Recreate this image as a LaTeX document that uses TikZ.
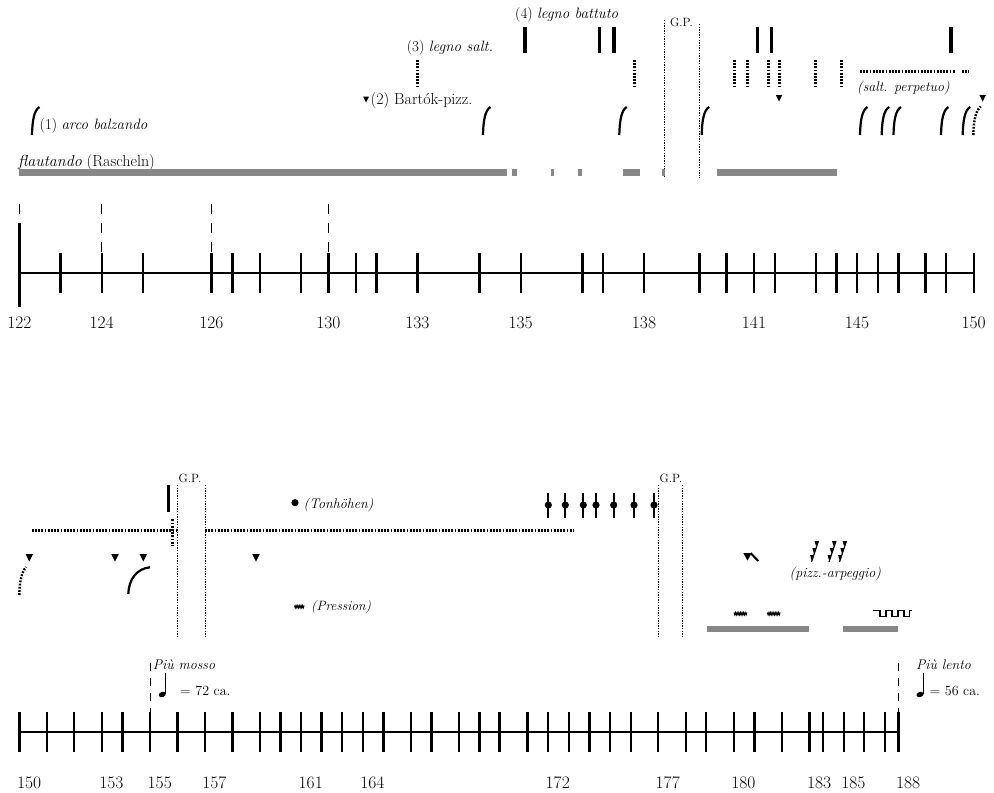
\documentclass[tikz,border=0pt]{standalone}
\usepackage{fontspec}
\definecolor{barg}{HTML}{878787}
\newcommand\bowarc[2]{\draw[bow] (#1,#2) .. controls (#1+0.3,#2-14) and (#1+2,#2-25) .. (#1+7.5,#2-28);}
\newcommand\tridn[3]{\fill (#1-#3/2,#2) -- (#1+#3/2,#2) -- (#1,#2+#3) -- cycle;}
\newcommand\arpsym[1]{%
  \draw[line width=1.2pt] (#1+8,541) -- (#1+1,562);
  \fill (#1+4,541) -- (#1+8.2,541) -- (#1+5.5,546) -- cycle;
  \fill (#1+1.8,548) -- (#1+5.9,548) -- (#1+3.3,553) -- cycle;
  \fill (#1-0.5,555) -- (#1+3.6,555) -- (#1+1,560) -- cycle;}
\newcommand\wig[3]{\draw[line width=1pt] (#1,#2) \foreach \i in {1,...,#3}{ -- ++(0.8,2.4) -- ++(0.8,-2.4)};}
\begin{document}
\begin{tikzpicture}[x=1pt,y=-1pt,
  axisline/.style={line width=2.4pt},
  tick/.style={line width=2.4pt},
  gbar/.style={line width=6.5pt,draw=barg},
  dotl/.style={line width=3pt,dash pattern=on 1.8pt off 1.4pt},
  gpl/.style={line width=0.9pt,dash pattern=on 1.3pt off 1.3pt},
  dashl/.style={line width=1pt,dash pattern=on 10pt off 9pt},
  bow/.style={line width=2.2pt},
  bat/.style={line width=3.5pt},
  lbl/.style={font=\fontsize{15}{18}\selectfont,inner sep=0pt},
  rlbl/.style={font=\fontsize{16}{19}\selectfont,inner sep=0pt},
  slbl/.style={font=\fontsize{14}{17}\selectfont,inner sep=0pt},
  gplbl/.style={font=\fontsize{12}{14}\selectfont,inner sep=0pt},
  num/.style={font=\fontsize{17.5}{20}\selectfont,inner sep=0pt}]
\useasboundingbox (0,0) rectangle (994,793);

% ================= TOP SYSTEM =================
% instrument labels
\node[lbl,anchor=base west] (battuto) at (515,18) {(4) \textit{legno battuto}};
\node[lbl,anchor=base west] (salt) at (406.7,51) {(3) \textit{legno salt.}};
\node[rlbl,anchor=base west] (bartok) at (370.5,104) {(2) Bartók-pizz.};
\tridn{366}{96.5}{6}
\node[lbl,anchor=base west] (arco) at (39.5,129.5) {(1) \textit{arco balzando}};
\node[rlbl,anchor=base west] (flaut) at (18,166) {\textit{flautando} (Rascheln)};
\node[slbl,anchor=base west] (perp) at (857,91) {\textit{(salt. perpetuo)}};
\node[gplbl,anchor=base] (gp1) at (681.5,26) {G.P.};

% G.P. dotted lines
\draw[gpl] (664.3,20) -- (664.3,178);
\draw[gpl] (699.3,24) -- (699.3,178);

% legno battuto bars
\foreach \x in {525,599.3,614,757.3,771.7,951} \draw[bat] (\x,26.7) -- (\x,52.7);
% legno saltando dotted strokes
\foreach \x in {417.3,634,734,747.3,768.3,779,815.7,841.7} \draw[dotl] (\x,60) -- (\x,86.7);
% salt. perpetuo
\draw[dotl] (860,71) -- (955,71);
\draw[dotl] (961.7,71) -- (968.3,71);
% Bartok triangles
\tridn{779}{95}{6.5}
\tridn{982.7}{95}{6.5}
% arco balzando bows
\foreach \x in {32,483,619.3,701.7,860,881.7,893.5,941,962.7} {\bowarc{\x}{135}}
\draw[dotl,line width=2.4pt] (973.3,135) .. controls (973.6,121) and (975.5,111) .. (980.7,106.5);

% flautando bars
\draw[gbar] (19.3,172.5) -- (506.7,172.5);
\foreach \a/\b in {511.7/516.7,551/554.3,578.3/581.7,623.3/640,662/665,716.7/836.7}
  \draw[gbar] (\a,172.5) -- (\b,172.5);

% dashed guide lines
\draw[dashl] (19.3,204) -- (19.3,214);
\foreach \x in {101.7,211.3,328.3} \draw[dashl] (\x,204) -- (\x,252);

% time axis
\draw[axisline] (19.3,272.7) -- (973.7,272.7);
\draw[tick] (19.3,223) -- (19.3,307);
\foreach \x in {60.3,101.7,142.7,211.3,232.3,259.7,301,328.3,355.7,376.3,417.3,479.3,520.7,582.3,603,644,699.3,726.3,754,774.7,815.7,836.3,857,877.7,898.3,925.3,946,973.7}
  \draw[tick] (\x,252.5) -- (\x,293);
\foreach \x/\n in {19.3/122,101.7/124,211.3/126,328.3/130,417.3/133,520.7/135,644/138,754/141,857/145,973.7/150}
  \node[num,anchor=base] (t\n) at (\x,328) {\n};

% ================= BOTTOM SYSTEM =================
\node[gplbl,anchor=base] (gp2) at (190,482) {G.P.};
\node[gplbl,anchor=base] (gp3) at (671,482) {G.P.};
\draw[gpl] (177.7,485) -- (177.7,636);
\draw[gpl] (205,485) -- (205,636);
\draw[gpl] (658.3,485) -- (658.3,637);
\draw[gpl] (682.7,485) -- (682.7,637);

\draw[bat] (168.3,485) -- (168.3,512.3);
\draw[dotl] (31.7,530.7) -- (176.7,530.7);
\draw[dotl] (205,530.7) -- (573.3,530.7);
\draw[dotl] (172.7,519.3) -- (172.7,545);

% Tonhoehen
\fill (295,502.7) circle[radius=3.6pt];
\node[slbl,anchor=base west] (tonh) at (303.5,508) {\textit{(Tonhöhen)}};
\foreach \x in {548.3,565.3,583.3,596,613.7,634,654} {
  \draw[line width=2pt] (\x,492.7) -- (\x,518.3);
  \fill (\x,505) circle[radius=3.6pt];}

% triangles and bows
\foreach \x in {29.3,115,143.3,256} {\tridn{\x}{554}{7.5}}
\draw[dotl,line width=2.4pt] (19.3,595) .. controls (19.6,582) and (21.5,572) .. (26,567);
\draw[bow] (128.3,594) .. controls (128.8,579) and (137,568.5) .. (150,567.3);

% Pression
\wig{294.5}{605.5}{6}
\node[font=\fontsize{13.5}{16}\selectfont,inner sep=0pt,anchor=base west] (press) at (311,610) {\textit{(Pression)}};

% right hand group
\fill (743.3,553) -- (751.7,553) -- (747.5,560.5) -- cycle;
\draw[line width=2pt] (750.5,553) -- (758.3,561);
\arpsym{810.5}
\arpsym{828}
\arpsym{838.5}
\node[slbl,anchor=base west] (arp) at (789.5,577) {\textit{(pizz.-arpeggio)}};
\wig{734}{612.5}{8}
\wig{767.3}{612.5}{8}
\draw[line width=1.3pt] (873.3,610.5) -- (880,610.5) -- (880,616.5) -- (886,616.5) -- (886,610.5) -- (892,610.5) -- (892,616.5) -- (898,616.5) -- (898,610.5) -- (904,610.5) -- (904,616.5) -- (909.5,616.5) -- (909.5,610.5) -- (912,610.5);
\draw[gbar] (706.7,629) -- (809,629);
\draw[gbar] (843.3,629) -- (898.3,629);

% tempo marks
\draw[dashl,dash pattern=on 8pt off 7pt] (150,662.7) -- (150,711.7);
\draw[dashl,dash pattern=on 8pt off 7pt] (898.3,662.7) -- (898.3,711.7);
\node[slbl,anchor=base west] (mosso) at (152.7,669.3) {\textit{Più mosso}};
\fill[rotate around={20:(162.3,694.5)}] (162.3,694.5) ellipse[x radius=3.7pt,y radius=2.6pt];
\draw[line width=0.8pt] (165.7,693.5) -- (165.7,673);
\node[slbl,anchor=base west] (t72) at (180,695.5) {= 72 ca.};
\node[slbl,anchor=base west] (lento) at (916,669.3) {\textit{Più lento}};
\fill[rotate around={20:(920,694.5)}] (920,694.5) ellipse[x radius=3.7pt,y radius=2.6pt];
\draw[line width=0.8pt] (923.4,693.5) -- (923.4,673);
\node[slbl,anchor=base west] (t56) at (929.5,695.5) {= 56 ca.};

% time axis
\draw[axisline] (19.3,731.7) -- (898.3,731.7);
\foreach \x in {19.3,46.7,74,101.7,122.3,150,177.3,204.7,232.3,259.7,280.3,301,321.3,342,362.7,383.3,410.7,431.3,458.7,479.3,499.3,527.3,548,568.7,589.3,610,630.7,658,685.7,706,733.7,754.3,781.7,809.3,823,843.7,864,884.7,898.3}
  \draw[tick] (\x,711.7) -- (\x,751.7);
\foreach \x/\n in {19.3/150,101.7/153,150/155,204.7/157,301/161,362.7/164,548/172,658/177,733.7/180,809.3/183,843.7/185,898.3/188}
  \node[num,anchor=base west] (b\n) at (\x-2.5,788) {\n};
\end{tikzpicture}
\end{document}
